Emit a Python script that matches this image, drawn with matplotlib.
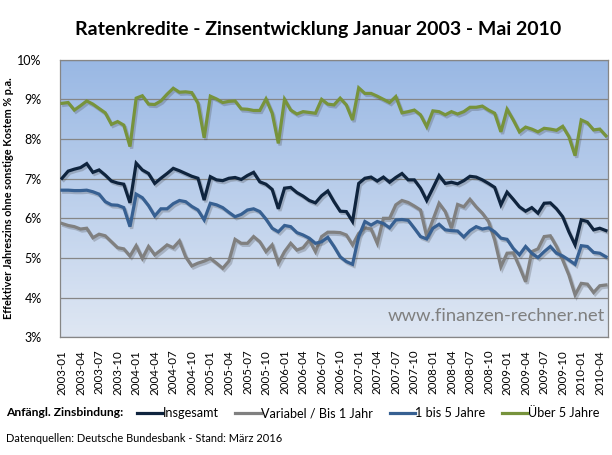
import numpy as np
import pandas as pd
import matplotlib
matplotlib.use("Agg")
import matplotlib.pyplot as plt
import matplotlib.patheffects as pe
from matplotlib.colors import LinearSegmentedColormap

plt.rcParams['font.family'] = ['Lato', 'DejaVu Sans']

# monthly categories Jan 2003 - May 2010
months = pd.period_range('2003-01', '2010-05', freq='M').strftime('%Y-%m').tolist()

insgesamt = [7.01, 7.19, 7.24, 7.28, 7.38, 7.16, 7.22, 7.09, 6.94, 6.89, 6.86, 6.39,
             7.39, 7.22, 7.13, 6.88, 7.01, 7.13, 7.26, 7.20, 7.13, 7.06, 7.01, 6.46,
             7.05, 6.97, 6.95, 7.01, 7.03, 6.98, 7.08, 7.16, 6.92, 6.86, 6.73, 6.24,
             6.76, 6.78, 6.65, 6.56, 6.45, 6.39, 6.57, 6.69, 6.42, 6.18, 6.17, 5.92,
             6.88, 7.01, 7.04, 6.94, 7.04, 6.91, 7.03, 7.13, 6.97, 6.97, 6.76, 6.45,
             6.76, 7.08, 6.88, 6.91, 6.87, 6.95, 7.06, 7.04, 6.97, 6.88, 6.78, 6.34,
             6.66, 6.48, 6.29, 6.18, 6.27, 6.13, 6.38, 6.39, 6.24, 6.04, 5.66, 5.33,
             5.96, 5.92, 5.71, 5.75, 5.69]

variabel = [5.87, 5.82, 5.79, 5.73, 5.75, 5.51, 5.60, 5.56, 5.41, 5.26, 5.23, 5.05,
            5.31, 4.99, 5.29, 5.08, 5.20, 5.33, 5.26, 5.43, 5.03, 4.80, 4.87, 4.92,
            4.99, 4.87, 4.74, 4.92, 5.47, 5.37, 5.37, 5.54, 5.41, 5.16, 5.33, 4.87,
            5.16, 5.37, 5.20, 5.26, 5.45, 5.16, 5.54, 5.65, 5.65, 5.64, 5.58, 5.33,
            5.62, 5.76, 5.73, 5.37, 6.00, 6.00, 6.34, 6.45, 6.40, 6.31, 6.21, 5.54,
            5.96, 6.38, 6.17, 5.75, 6.35, 6.29, 6.48, 6.29, 6.13, 5.92, 5.45, 4.78,
            5.12, 5.13, 4.78, 4.40, 5.16, 5.23, 5.54, 5.56, 5.29, 4.95, 4.57, 4.07,
            4.36, 4.34, 4.13, 4.30, 4.32]

bis_5 = [6.71, 6.71, 6.70, 6.70, 6.71, 6.67, 6.61, 6.42, 6.34, 6.33, 6.27, 5.79,
         6.61, 6.52, 6.32, 6.06, 6.24, 6.24, 6.37, 6.45, 6.42, 6.30, 6.21, 5.96,
         6.38, 6.34, 6.27, 6.15, 6.04, 6.10, 6.21, 6.24, 6.17, 5.98, 5.75, 5.66,
         5.82, 5.79, 5.64, 5.58, 5.50, 5.37, 5.41, 5.52, 5.29, 5.03, 4.91, 4.84,
         5.54, 5.92, 5.83, 5.92, 5.87, 5.76, 5.96, 5.97, 5.95, 5.75, 5.54, 5.48,
         5.75, 5.85, 5.71, 5.69, 5.68, 5.53, 5.69, 5.79, 5.73, 5.76, 5.66, 5.50,
         5.47, 5.24, 5.08, 5.29, 5.12, 5.01, 5.16, 5.29, 5.12, 5.05, 4.95, 4.84,
         5.31, 5.29, 5.14, 5.12, 5.03]

ueber_5 = [8.90, 8.92, 8.73, 8.84, 8.96, 8.88, 8.77, 8.66, 8.37, 8.44, 8.35, 7.81,
           9.03, 9.09, 8.88, 8.87, 8.96, 9.13, 9.28, 9.18, 9.19, 9.17, 8.90, 8.03,
           9.08, 9.01, 8.92, 8.95, 8.96, 8.76, 8.75, 8.72, 8.72, 9.01, 8.65, 7.89,
           9.00, 8.73, 8.63, 8.69, 8.67, 8.65, 9.00, 8.88, 8.86, 9.03, 8.86, 8.48,
           9.29, 9.15, 9.15, 9.08, 9.00, 8.92, 9.07, 8.66, 8.69, 8.73, 8.61, 8.31,
           8.71, 8.69, 8.61, 8.69, 8.63, 8.69, 8.80, 8.80, 8.83, 8.73, 8.65, 8.18,
           8.75, 8.48, 8.18, 8.30, 8.25, 8.18, 8.27, 8.25, 8.22, 8.32, 8.06, 7.58,
           8.48, 8.41, 8.23, 8.25, 8.08]

series_names = ['Insgesamt', 'Variabel / Bis 1 Jahr', '1 bis 5 Jahre', 'Über 5 Jahre']
series_colors = ['#0F243E', '#808080', '#376092', '#77933C']
yticks = [3, 4, 5, 6, 7, 8, 9, 10]

fig = plt.figure(figsize=(6.12, 4.55), dpi=100)
ax = fig.add_axes([59.7 / 612, 1 - 337.3 / 455, 548 / 612, 277.6 / 455])

x = np.arange(len(months))
xmin, xmax = -0.37, len(months) - 1 + 0.28

# gradient background of the plot area
grad = LinearSegmentedColormap.from_list('bg', ['#DFE7F3', '#99B8E4'])
ax.imshow(np.linspace(0, 1, 256).reshape(-1, 1), cmap=grad, origin='lower',
          extent=[xmin, xmax, 3, 10], aspect='auto', zorder=0)

shadow = [pe.SimpleLineShadow(offset=(1.2, -1.5), shadow_color='#404040', alpha=0.25),
          pe.Normal()]
for vals, name, col in zip([insgesamt, variabel, bis_5, ueber_5], series_names, series_colors):
    ax.plot(x, vals, color=col, lw=2.3, label=name, zorder=3,
            solid_joinstyle='miter', path_effects=shadow)

ax.set_xlim(xmin, xmax)
ax.set_ylim(3, 10)
ax.set_yticks(yticks)
ax.set_yticklabels([f'{v}%' for v in yticks], fontsize=9)
ax.yaxis.grid(True, color='#868686', lw=0.9, zorder=1)
ax.set_axisbelow(False)
ax.set_xticks(x[::3])
ax.set_xticklabels(months[::3], rotation=90, fontsize=8.3)
ax.tick_params(axis='both', length=0, colors='black')
ax.tick_params(axis='x', pad=9)
ax.tick_params(axis='y', pad=13)
for s in ax.spines.values():
    s.set_color('#868686')
    s.set_linewidth(0.9)

ax.set_ylabel('Effektiver Jahreszins ohne sonstige Kostem % p.a.', fontsize=7.8,
              fontweight='bold')
ax.yaxis.set_label_coords(-45.5 / 548, 0.5)

fig.text(318 / 612, 1 - 29 / 455, 'Ratenkredite - Zinsentwicklung Januar 2003 - Mai 2010',
         ha='center', va='center', fontsize=14, fontweight='bold')

ax.text(0.995, 0.075, 'www.finanzen-rechner.net', transform=ax.transAxes,
        ha='right', va='center', fontsize=13.3, color='#7F7F7F', zorder=4)

fig.text(6 / 612, 1 - 413 / 455, 'Anfängl. Zinsbindung:', ha='left', va='center',
         fontsize=8.7, fontweight='bold')
leg = ax.legend(loc='center left', bbox_to_anchor=(137 / 612, 1 - 413 / 455),
                bbox_transform=fig.transFigure, ncol=4, frameon=False, fontsize=9.1,
                handlelength=2.0, handletextpad=0.05, columnspacing=1.3,
                borderaxespad=0, borderpad=0)
for line in leg.get_lines():
    line.set_path_effects([])
    line.set_linewidth(2.3)

fig.text(6 / 612, 1 - 439 / 455, 'Datenquellen: Deutsche Bundesbank - Stand: März 2016',
         ha='left', va='center', fontsize=7.9)

fig.savefig('out.png', dpi=100)
